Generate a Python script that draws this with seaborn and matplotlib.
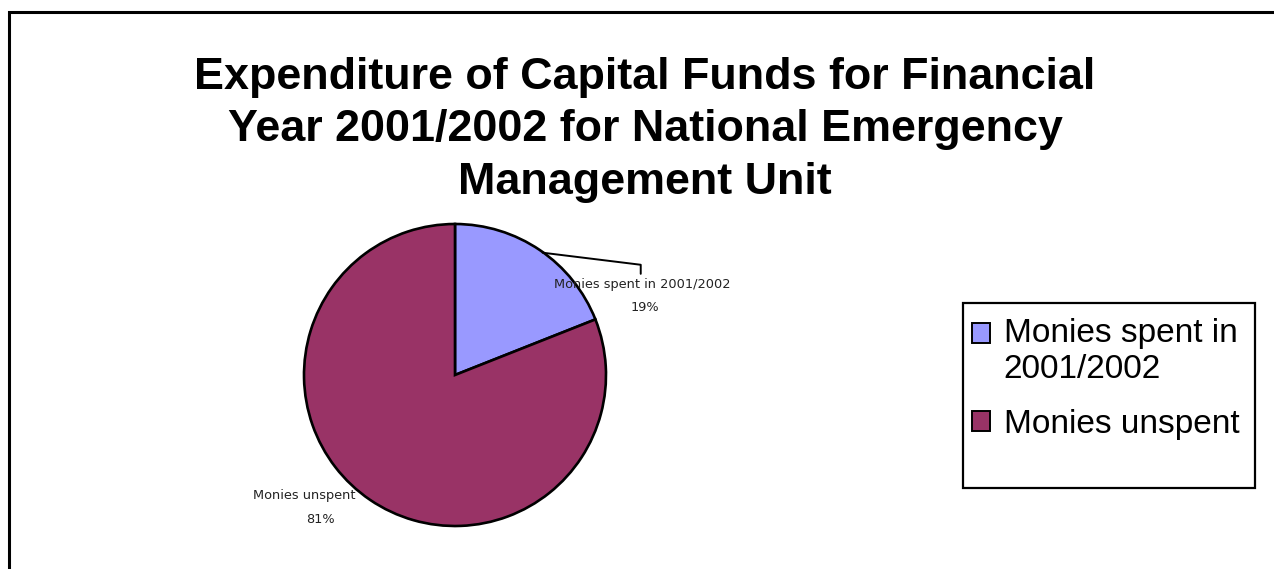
import matplotlib.pyplot as plt
import seaborn as sns
from matplotlib.patches import Patch, Rectangle
from matplotlib.legend_handler import HandlerPatch

# datos
categorias = ['Monies spent in 2001/2002', 'Monies unspent']
porcentajes = [19, 81]
colores = ['#9999FF', '#993366']
leyenda = ['Monies spent in\n2001/2002', 'Monies unspent']
titulo = ("Expenditure of Capital Funds for Financial\n"
          "Year 2001/2002 for National Emergency\n"
          "Management Unit")

sns.set_style("white")
plt.rcParams['font.family'] = ['Liberation Sans', 'DejaVu Sans']
plt.rcParams['text.color'] = 'black'

W, H = 1274, 569
fig = plt.figure(figsize=(W / 100, H / 100), dpi=100)

# pie centrado en (455, 375) px con radio 151 px
cx, cy, r = 455, 375, 151
ax = fig.add_axes([0, 0, 1, 1])
wedges, _ = ax.pie(porcentajes, colors=colores, startangle=90,
                   counterclock=False, radius=1,
                   wedgeprops=dict(edgecolor='black', linewidth=1.9))
ax.set_xlim(-cx / r, (W - cx) / r)
ax.set_ylim(-(H - cy) / r, cy / r)
ax.set_aspect('auto')
ax.axis('off')

# etiquetas de las porciones
lab_font = dict(family='DejaVu Sans', fontsize=9.3, color='#222222', ha='center', va='center')
ax.plot([0.58, 1.23, 1.23], [0.81, 0.73, 0.67], color='black', lw=1.4)
ax.text(1.24, 0.60, categorias[0], **lab_font)
ax.text(1.26, 0.445, f"{porcentajes[0]}%", **lab_font)
ax.text(-1.0, -0.80, categorias[1], **lab_font)
ax.text(-0.89, -0.955, f"{porcentajes[1]}%", **lab_font)

# titulo
fig.text(645 / W, 1 - 130 / H, titulo, ha='center', va='center',
         fontsize=32.3, fontweight='bold', linespacing=1.36, color='black')


# el cuadro de la primera entrada va alineado con su primera linea
def cuadro_arriba(legend, orig_handle, xdescent, ydescent, width, height, fontsize):
    return Rectangle((-xdescent, -ydescent + 0.55 * fontsize), width, height)


handles = [Patch(facecolor=c, edgecolor='black', linewidth=1.4) for c in colores]
fig.legend(handles, leyenda, loc='upper left',
           bbox_to_anchor=(972 / W, 1 - 318 / H), frameon=False,
           fontsize=24, handlelength=0.55, handleheight=0.55,
           handletextpad=0.4, labelspacing=0.72, borderpad=0, borderaxespad=0,
           labelcolor='black',
           handler_map={handles[0]: HandlerPatch(patch_func=cuadro_arriba)})
fig.add_artist(Rectangle((963 / W, 1 - 488 / H), 292 / W, 185 / H,
                         transform=fig.transFigure, fill=False,
                         edgecolor='black', linewidth=1.6))

# marco exterior (recortado a derecha y abajo)
fig.add_artist(Rectangle((9 / W, -10 / H), (W + 20) / W, (H - 12 + 10) / H,
                         transform=fig.transFigure, fill=False,
                         edgecolor='black', linewidth=2.2))

fig.savefig('out.png', dpi=100)
